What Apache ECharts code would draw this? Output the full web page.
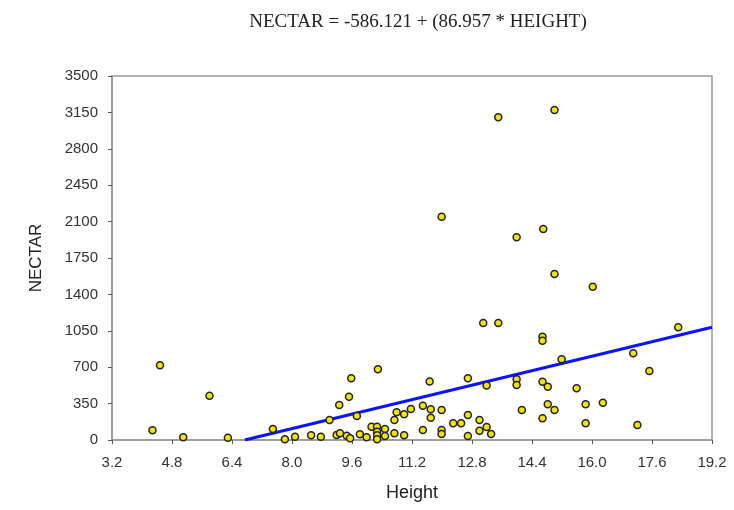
<!DOCTYPE html>
<html>
<head>
<meta charset="utf-8">
<script src="https://cdn.jsdelivr.net/npm/echarts@6/dist/echarts.min.js"></script>
<style>
  html, body { margin: 0; padding: 0; background: #fff; }
  #main { width: 734px; height: 510px; }
</style>
</head>
<body>
<div id="main"></div>
<script>
  // data
  var heights = [4.28, 4.48, 5.10, 5.80, 6.29, 7.49, 7.81, 8.08, 8.51, 8.77,
    9.00, 9.19, 9.26, 9.28, 9.46, 9.52, 9.55, 9.58, 9.73, 9.81,
    9.99, 10.12, 10.27, 10.27, 10.27, 10.27, 10.29, 10.48, 10.48, 10.73,
    10.73, 10.79, 10.99, 10.99, 11.17, 11.49, 11.49, 11.67, 11.70, 11.70,
    11.99, 11.99, 11.99, 12.30, 12.51, 12.69, 12.69, 12.69, 13.00, 13.00,
    13.19, 13.19, 13.31, 13.99, 13.99, 14.13, 14.68, 14.68, 14.68, 14.82,
    14.68, 14.82, 15.00, 15.19, 15.59, 15.83, 15.83, 16.29, 17.10, 17.21,
    17.53, 18.30, 13.50, 11.99, 13.99, 14.70, 15.00, 15.00, 16.02, 13.10, 13.50];
  var nectar = [93, 718, 26, 426, 22, 106, 7, 32, 45, 32,
    192, 48, 337, 64, 41, 416, 17, 593, 231, 55,
    26, 128, 128, 80, 45, 7, 680, 106, 38, 192,
    64, 266, 247, 45, 298, 330, 96, 562, 295, 215,
    288, 96, 58, 160, 160, 593, 240, 38, 192, 89,
    525, 125, 58, 583, 529, 288, 993, 955, 561, 513,
    208, 343, 288, 776, 497, 343, 160, 359, 833, 144,
    663, 1083, 3103, 2147, 1949, 2029, 3173, 1596, 1474, 1125, 1125];
  // fitted line end points (as drawn)
  var fitX = [6.74, 19.2];
  var fitY = [0, 1084];

  var points = heights.map(function (h, i) { return [h, nectar[i]]; });
  var fit = fitX.map(function (h, i) { return [h, fitY[i]]; });

  var chart = echarts.init(document.getElementById('main'));
  chart.setOption({
    animation: false,
    title: {
      text: 'NECTAR = -586.121 + (86.957 * HEIGHT)',
      left: 413, top: 8, textAlign: 'center',
      textStyle: { fontFamily: 'Liberation Serif', fontSize: 19, fontWeight: 'normal', color: '#222' }
    },
    grid: {
      left: 112, right: 22, top: 76, bottom: 70,
      show: true, borderColor: '#999', borderWidth: 1.5, backgroundColor: '#fff'
    },
    xAxis: {
      type: 'value', min: 3.2, max: 19.2, interval: 1.6,
      name: 'Height', nameLocation: 'middle', nameGap: 44,
      nameTextStyle: { fontFamily: 'Liberation Sans', fontSize: 18, color: '#222' },
      axisLine: { lineStyle: { color: '#999', width: 1.5 } },
      axisTick: { show: true, length: 4, lineStyle: { color: '#555' } },
      axisLabel: {
        fontFamily: 'Liberation Sans', fontSize: 15, color: '#333', margin: 15,
        formatter: function (v) { return v.toFixed(1); }
      },
      splitLine: { show: false }
    },
    yAxis: {
      type: 'value', min: 0, max: 3500, interval: 350,
      name: 'NECTAR', nameLocation: 'middle', nameGap: 67, nameRotate: 90,
      nameTextStyle: { fontFamily: 'Liberation Sans', fontSize: 17, color: '#222' },
      axisLine: { show: true, lineStyle: { color: '#999', width: 1.5 } },
      axisTick: { show: true, length: 4, lineStyle: { color: '#555' } },
      axisLabel: {
        fontFamily: 'Liberation Sans', fontSize: 15, color: '#333', margin: 14,
        formatter: function (v) { return String(v); }
      },
      splitLine: { show: false }
    },
    series: [
      {
        type: 'line', data: fit, symbol: 'none', z: 2,
        lineStyle: { color: '#0a14ff', width: 3 }
      },
      {
        type: 'scatter', data: points, symbol: 'circle', symbolSize: 7, z: 3,
        itemStyle: { color: '#f2e600', borderColor: '#222', borderWidth: 1.5, opacity: 1 }
      }
    ]
  });
</script>
</body>
</html>
